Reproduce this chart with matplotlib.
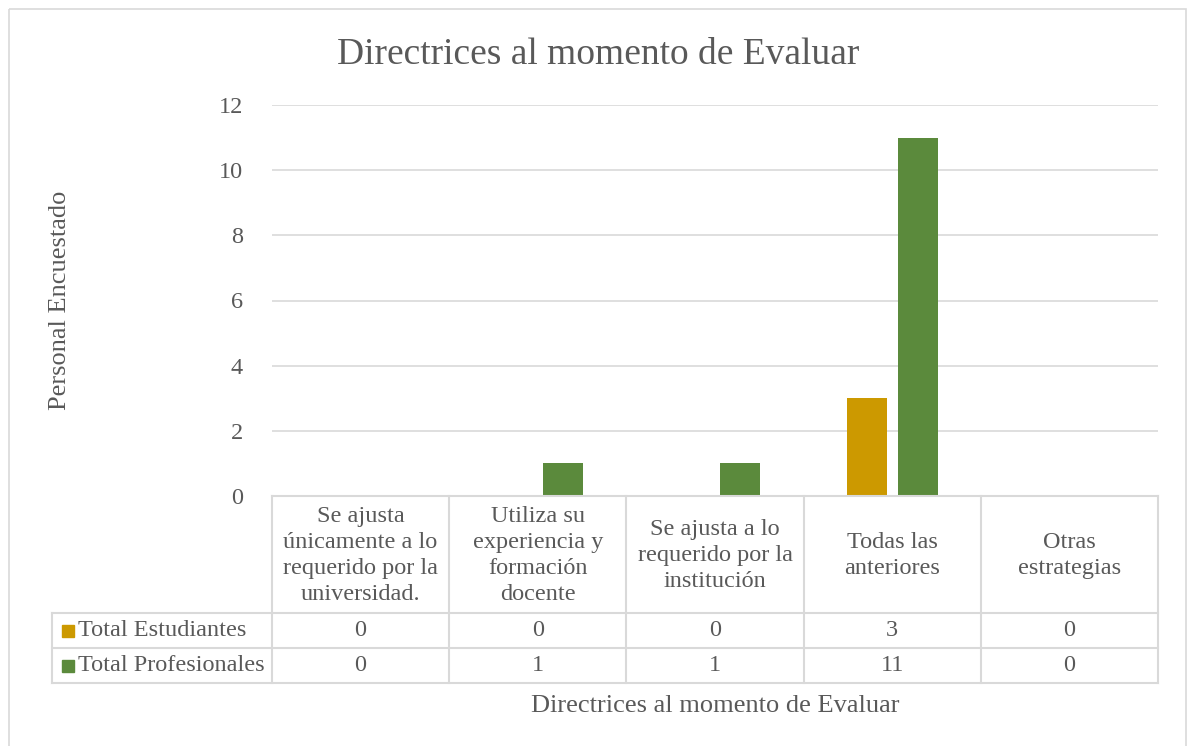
"""
Grouped bars with an Excel-style data table below: Directrices al momento de Evaluar.
"""

import matplotlib
matplotlib.use("Agg")
import matplotlib.pyplot as plt
from matplotlib.lines import Line2D
from matplotlib.patches import Rectangle
import numpy as np

categories = [
    "Se ajusta\núnicamente a lo\nrequerido por la\nuniversidad.",
    "Utiliza su\nexperiencia y\nformación\ndocente",
    "Se ajusta a lo\nrequerido por la\ninstitución",
    "Todas las\nanteriores",
    "Otras\nestrategias",
]
series_names = ["Total Estudiantes", "Total Profesionales"]
estudiantes = [0, 0, 0, 3, 0]
profesionales = [0, 1, 1, 11, 0]
y_ticks = [0, 2, 4, 6, 8, 10, 12]

_W, _H = 1189, 746
_COLORS = ["#CC9900", "#5B8A3C"]
_TEXT = "#595959"
_GRID = "#D9D9D9"
_FONT = "Liberation Serif"
_FS = 17.5

plt.rcParams["font.family"] = [_FONT, "DejaVu Serif"]

fig = plt.figure(figsize=(_W / 100, _H / 100), dpi=100)

# layout in pixels (top-left origin)
plot_l, plot_r = 272, 1158
plot_t, plot_b = 105, 496
leg_l = 52
row_edges = [496, 613, 648, 683]

ax = fig.add_axes([plot_l / _W, 1 - plot_b / _H,
                   (plot_r - plot_l) / _W, (plot_b - plot_t) / _H])
x = np.arange(len(categories))
width = 0.226
offset = 0.143
for vals, col, off in zip([estudiantes, profesionales], _COLORS, [-offset, offset]):
    ax.bar(x + off, vals, width, color=col, zorder=3)

ax.set_xlim(-0.5, len(categories) - 0.5)
ax.set_ylim(0, 12)
ax.set_yticks(y_ticks)
ax.tick_params(axis="y", length=0, pad=21, labelsize=_FS, labelcolor=_TEXT)
ax.set_xticks([])
ax.grid(axis="y", color=_GRID, linewidth=1.2, zorder=0)
for s in ax.spines.values():
    s.set_visible(False)

# overlay in pixel coords for table, labels and frame
ov = fig.add_axes([0, 0, 1, 1], facecolor="none")
ov.set_xlim(0, _W)
ov.set_ylim(_H, 0)
ov.axis("off")

ov.add_patch(Rectangle((9, 9), _W - 9 - 3, _H + 10, fill=False,
                       edgecolor=_GRID, linewidth=1.2))

col_w = (plot_r - plot_l) / len(categories)
col_edges = [plot_l + i * col_w for i in range(len(categories) + 1)]

line_kw = dict(color=_GRID, linewidth=1.5)
# horizontal lines
ov.add_line(Line2D([plot_l, plot_r], [row_edges[0]] * 2, **line_kw))
for yy in row_edges[1:]:
    ov.add_line(Line2D([leg_l, plot_r], [yy] * 2, **line_kw))
# vertical lines
ov.add_line(Line2D([leg_l, leg_l], [row_edges[1], row_edges[3]], **line_kw))
for xx in col_edges:
    ov.add_line(Line2D([xx, xx], [row_edges[0], row_edges[3]], **line_kw))

for i, cat in enumerate(categories):
    cx = (col_edges[i] + col_edges[i + 1]) / 2
    ov.text(cx, (row_edges[0] + row_edges[1]) / 2 + 1, cat, ha="center", va="center",
            fontsize=_FS, color=_TEXT, linespacing=1.3)

for r, (name, vals, col) in enumerate(zip(series_names, [estudiantes, profesionales], _COLORS)):
    cy = (row_edges[r + 1] + row_edges[r + 2]) / 2
    ov.add_patch(Rectangle((62, cy - 6), 12, 12, color=col))
    ov.text(78, cy, name, ha="left", va="center", fontsize=_FS, color=_TEXT)
    for i, v in enumerate(vals):
        cx = (col_edges[i] + col_edges[i + 1]) / 2
        ov.text(cx, cy, str(v), ha="center", va="center", fontsize=_FS, color=_TEXT)

ov.text((338 + 858) / 2, 55, "Directrices al momento de Evaluar", ha="center",
        va="center", fontsize=27, color=_TEXT)
ov.text(715, 706, "Directrices al momento de Evaluar", ha="center", va="center",
        fontsize=19, color=_TEXT)
ov.text(60, 300, "Personal Encuestado", ha="center", va="center",
        rotation=90, fontsize=19, color=_TEXT)

fig.savefig("out.png", dpi=100)
